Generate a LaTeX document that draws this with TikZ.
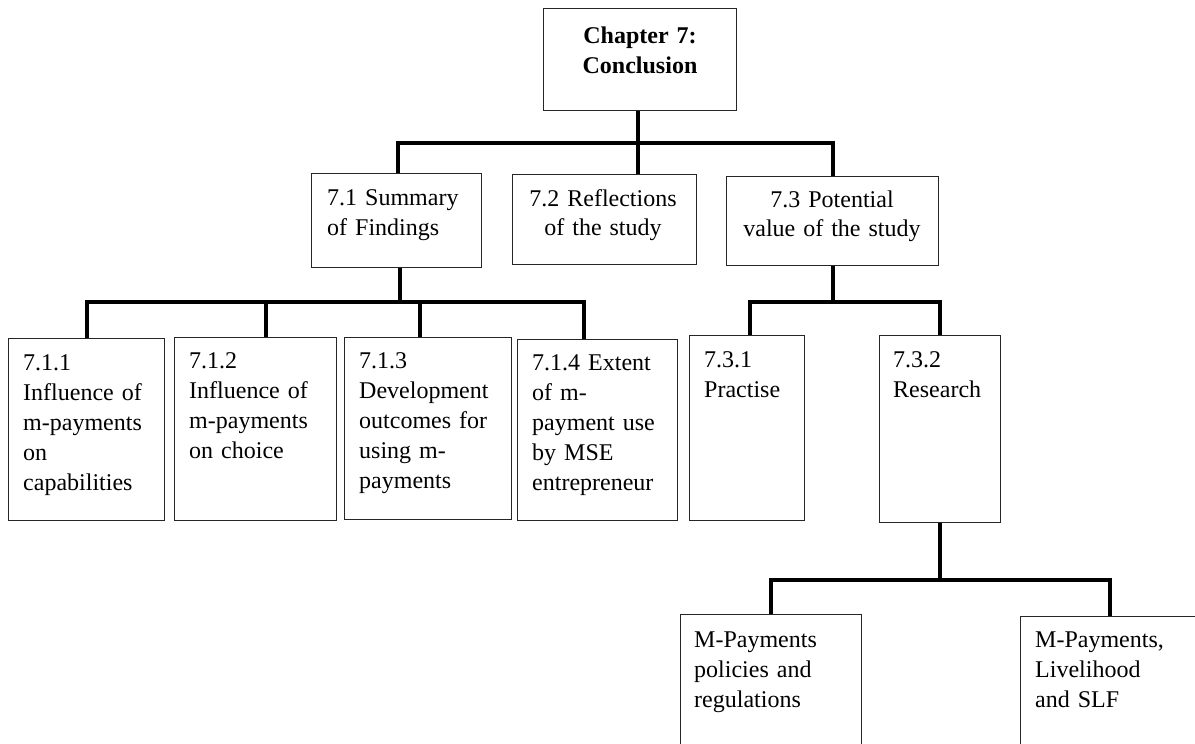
\documentclass[tikz,border=0pt]{standalone}
\usepackage{fontspec}
\setmainfont{Liberation Serif}
\begin{document}
\begin{tikzpicture}[x=1pt,y=-1pt,
  box/.style={draw=black!85, line width=1.3pt, rectangle, inner sep=0pt, anchor=north west},
  conn/.style={line width=4pt, draw=black},
  txt/.style={inner sep=0pt, anchor=base west, text width=190pt, align=left, font=\fontsize{24}{30}\selectfont},
  ctxt/.style={inner sep=0pt, anchor=base, align=center, font=\fontsize{24}{29}\selectfont}]
\useasboundingbox (0,0) rectangle (1195,744);
\fill[white] (0,0) rectangle (1195,744);
\clip (0,0) rectangle (1195,744);

% boxes
\node[box, minimum width=193, minimum height=102] (ch)   at (543,8)   {};
\node[box, minimum width=170, minimum height=94]  (s71)  at (311,173) {};
\node[box, minimum width=184, minimum height=90]  (s72)  at (512,174) {};
\node[box, minimum width=212, minimum height=89]  (s73)  at (726,176) {};
\node[box, minimum width=156, minimum height=182] (s711) at (8,338)   {};
\node[box, minimum width=162, minimum height=183] (s712) at (174,337) {};
\node[box, minimum width=167, minimum height=182] (s713) at (344,337) {};
\node[box, minimum width=160, minimum height=181] (s714) at (517,339) {};
\node[box, minimum width=115, minimum height=185] (s731) at (689,335) {};
\node[box, minimum width=121, minimum height=187] (s732) at (879,335) {};
\node[box, minimum width=181, minimum height=160] (b1)   at (680,614) {};
\node[box, minimum width=178, minimum height=160] (b2)   at (1020,616) {};

% texts
\node[ctxt, text width=193pt, font=\fontsize{24}{30}\selectfont\bfseries] (tch) at (640,43) {Chapter 7:\\Conclusion};
\node[txt] (t71) at (327,205) {7.1 Summary\\of Findings};
\node[ctxt, text width=184pt] (t72) at (603,206) {7.2 Reflections\\of the study};
\node[ctxt, text width=212pt] (t73) at (832,207) {7.3 Potential\\value of the study};
\node[txt] (t711) at (23,370)  {7.1.1\\Influence of\\m-payments\\on\\capabilities};
\node[txt] (t712) at (189,368) {7.1.2\\Influence of\\m-payments\\on choice};
\node[txt] (t713) at (359,368) {7.1.3\\Development\\outcomes for\\using m-\\payments};
\node[txt] (t714) at (532,370) {7.1.4 Extent\\of m-\\payment use\\by MSE\\entrepreneur};
\node[txt] (t731) at (704,367) {7.3.1\\Practise};
\node[txt] (t732) at (893,367) {7.3.2\\Research};
\node[txt] (tb1)  at (694,647) {M-Payments\\policies and\\regulations};
\node[txt] (tb2)  at (1035,647) {M-Payments,\\Livelihood\\and SLF};

% connectors
\draw[conn] ([xshift=-2pt]ch.south) -- ++(0,32) coordinate (hb);
\draw[conn] ([xshift=1pt]s71.north) |- (hb) -| (s73.north);
\draw[conn] (hb) -- (hb |- s72.north);

\draw[conn] ([xshift=3pt]s71.south) -- ++(0,34) coordinate (h1);
\draw[conn] (s711.north) |- (h1) -| ([xshift=-14pt]s714.north);
\draw[conn] ([xshift=10pt]s712.north) -- ([xshift=10pt]s712.north |- h1);
\draw[conn] ([xshift=-8.5pt]s713.north) -- ([xshift=-8.5pt]s713.north |- h1);

\draw[conn] (s73.south) -- ++(0,36) coordinate (h3);
\draw[conn] ([xshift=2.5pt]s731.north) |- (h3) -| (s732.north);

\draw[conn] (s732.south) -- ++(0,57) coordinate (h4);
\draw[conn] (b1.north) |- (h4) -| (b2.north);
\end{tikzpicture}
\end{document}
